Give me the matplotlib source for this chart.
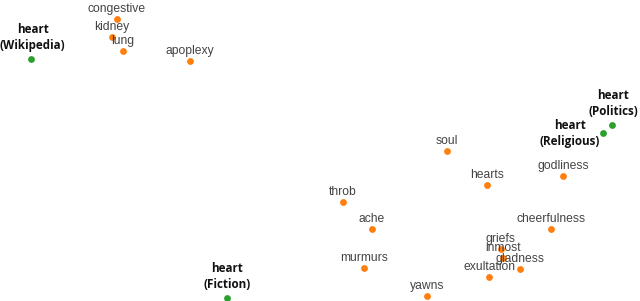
import matplotlib
matplotlib.use("Agg")
import matplotlib.pyplot as plt

# word positions (projection coordinates, screen-like units)
words = ["congestive", "kidney", "lung", "apoplexy", "soul", "hearts", "godliness",
         "throb", "ache", "cheerfulness", "griefs", "inmost", "gladness",
         "exultation", "murmurs", "yawns"]
word_x = [117, 112, 123, 190, 447, 487, 563, 343, 372, 551, 501, 503, 520, 489, 364, 427]
word_y = [19, 37, 51, 61, 151, 185, 176, 202, 229, 229, 249, 258, 269, 277, 268, 296]

hearts = ["heart\n(Wikipedia)", "heart\n(Politics)", "heart\n(Religious)", "heart\n(Fiction)"]
heart_x = [31, 612, 603, 227]
heart_y = [59, 125, 133, 298]

# label placement tweaks (points) to avoid collisions, like the original layout
heart_label_offsets = [(1.2, 5), (1, 5), (-24, -11), (0, 5)]

ORANGE = "#ff7f0e"
GREEN = "#2ca02c"

fig = plt.figure(figsize=(6.4, 3.01), dpi=100)
ax = fig.add_axes([0, 0, 1, 1])
ax.set_xlim(0, 640)
ax.set_ylim(301, 0)
ax.axis("off")

ax.scatter(word_x, word_y, s=24, color=ORANGE, linewidths=0, zorder=2, clip_on=False)
ax.scatter(heart_x, heart_y, s=24, color=GREEN, linewidths=0, zorder=2, clip_on=False)

for w, x, y in zip(words, word_x, word_y):
    ax.annotate(w, (x, y), xytext=(0, 2.6), textcoords="offset points",
                ha="center", va="bottom", fontsize=8.7,
                family="Liberation Sans", color="#444444", zorder=3)

for w, x, y, off in zip(hearts, heart_x, heart_y, heart_label_offsets):
    ax.annotate(w, (x, y), xytext=off, textcoords="offset points",
                ha="center", va="bottom", fontsize=8.4, fontweight="bold",
                family="Open Sans", color="#111111", linespacing=1.3, zorder=3)

fig.savefig("out.png", dpi=100)
